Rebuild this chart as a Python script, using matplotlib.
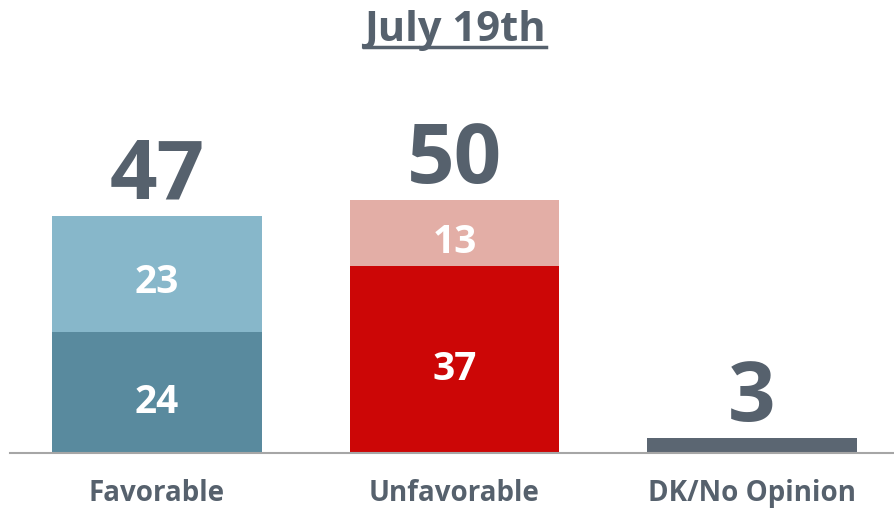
import matplotlib.pyplot as plt

plt.rcParams['font.family'] = ['Open Sans', 'DejaVu Sans']

categories = ['Favorable', 'Unfavorable', 'DK/No Opinion']
strong = [24, 37, 3]
soft = [23, 13, 0]
totals = [47, 50, 3]

strong_colors = ['#598a9e', '#cc0606', '#5b6672']
soft_colors = ['#87b7ca', '#e3aea6', '#5b6672']
grey = '#56616d'

fig = plt.figure(figsize=(8.94, 5.13), dpi=100)
ax = fig.add_axes([0.0112, 0.117, 0.9888, 0.766])

x = range(len(categories))
ax.bar(x, strong, width=0.705, color=strong_colors)
ax.bar(x, soft, width=0.705, bottom=strong, color=soft_colors)

for i in x:
    ax.text(i, totals[i] + 3.4, str(totals[i]), ha='center', va='baseline',
            fontsize=60, fontweight='bold', color=grey)
    if soft[i] > 0:
        ax.text(i, strong[i] / 2 - 2.0, str(strong[i]), ha='center', va='center',
                fontsize=28, fontweight='bold', color='white')
        ax.text(i, strong[i] + soft[i] / 2 - 1.8, str(soft[i]), ha='center', va='center',
                fontsize=28, fontweight='bold', color='white')

ax.set_xlim(-0.494, 2.477)
ax.set_ylim(0, 77.8)
ax.set_xticks(list(x))
ax.set_xticklabels(categories, fontsize=20, fontweight='bold', color=grey)
ax.tick_params(axis='x', length=0, pad=19)
ax.set_yticks([])
for s in ['top', 'right', 'left']:
    ax.spines[s].set_visible(False)
ax.spines['bottom'].set_color('#a6a6a6')
ax.spines['bottom'].set_linewidth(1.5)

title = fig.text(0.509, 0.94, 'July 19th', ha='center', va='center',
                 fontsize=30, fontweight='bold', color=grey)

# underline the title
fig.canvas.draw()
bb = title.get_window_extent().transformed(fig.transFigure.inverted())
fig.add_artist(plt.Line2D([bb.x0, bb.x1], [bb.y0 + 0.008, bb.y0 + 0.008],
                          color=grey, linewidth=2.5, transform=fig.transFigure))

fig.savefig('out.png', dpi=100)
